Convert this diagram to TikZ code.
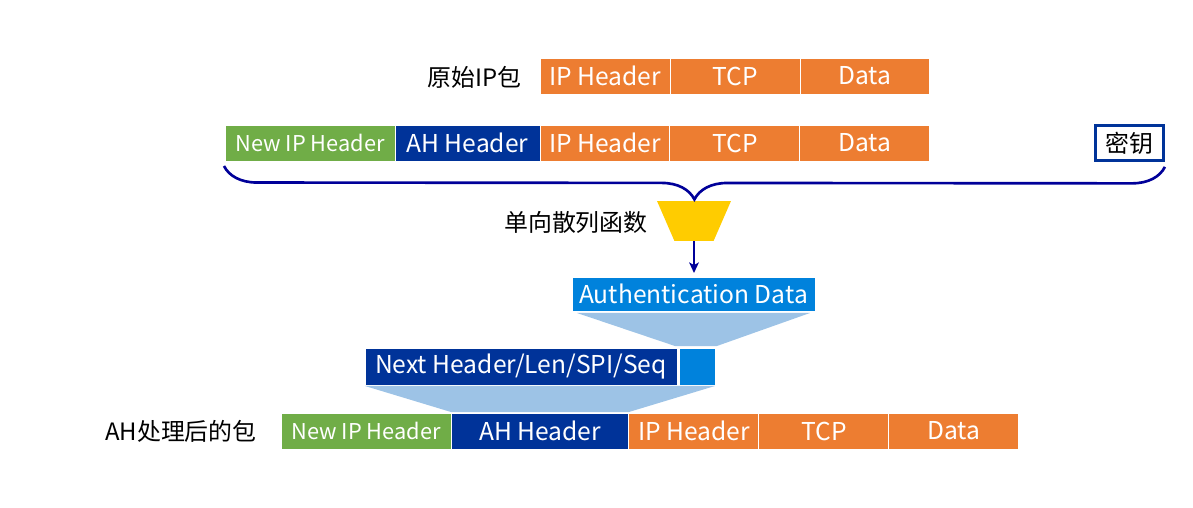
\documentclass[tikz,border=0pt]{standalone}
\usepackage{fontspec}
\setmainfont{Noto Sans CJK SC}
\usetikzlibrary{positioning,shapes.geometric,decorations.pathreplacing,arrows.meta}
\definecolor{ahorange}{HTML}{ED7D31}
\definecolor{ahgreen}{HTML}{70AD47}
\definecolor{ahblue}{HTML}{003399}
\definecolor{ahazure}{HTML}{0082DC}
\definecolor{ahlight}{HTML}{9DC3E6}
\definecolor{ahyellow}{HTML}{FFCC00}
\definecolor{ahnavy}{HTML}{000099}

\tikzstyle{seg} = [rectangle,draw=white,line width=0.5pt,inner sep=0pt,outer sep=0pt,text=white,minimum height=0.72cm,font=\fontsize{14}{17}\selectfont]
\tikzstyle{iphdr} = [seg,fill=ahorange,minimum width=2.6cm]
\tikzstyle{newhdr} = [seg,fill=ahgreen,minimum width=3.4cm,font=\fontsize{12.4}{15}\selectfont]
\tikzstyle{ahhdr} = [seg,fill=ahblue]
\tikzstyle{lbl} = [font=\fontsize{13.6}{16}\selectfont,inner sep=0pt,anchor=east]
\tikzstyle{keybox} = [draw=ahblue,line width=1.6pt,fill=white,minimum width=1.36cm,minimum height=0.7cm,inner sep=0pt,font=\fontsize{13.6}{16}\selectfont]
\tikzstyle{hashfn} = [trapezium,trapezium left angle=66,trapezium right angle=66,shape border rotate=180,trapezium stretches=true,fill=ahyellow,minimum width=1.48cm,minimum height=0.8cm,inner sep=1pt,outer sep=0pt]
\tikzstyle{brace} = [draw=ahnavy,line width=1.5pt,decorate,decoration={brace,mirror,amplitude=0.66cm,aspect=0.5}]

\begin{document}
\begin{tikzpicture}[x=0.02cm,y=-0.02cm,>={Stealth[length=6pt,width=5.5pt,inset=1.5pt]}]
	\useasboundingbox (0,0) rectangle (1193,507);
	\node (orig) [lbl] at (522,77) {原始IP包};
	\node (ip1) [iphdr,anchor=north west] at (540,58) {IP Header};
	\node (tcp1) [iphdr,right=0pt of ip1] {TCP};
	\node (data1) [iphdr,right=0pt of tcp1] {Data};
	\node (new2) [newhdr,anchor=north west] at (225,125) {New IP Header};
	\node (ah2) [ahhdr,right=0pt of new2,minimum width=2.9cm] {AH Header};
	\node (ip2) [iphdr,right=0pt of ah2] {IP Header};
	\node (tcp2) [iphdr,right=0pt of ip2] {TCP};
	\node (data2) [iphdr,right=0pt of tcp2] {Data};
	\node (key) [keybox] at (1129.5,143) {密钥};
	\node (hash) [hashfn] at (694,221) {};
	\node (hashlbl) [lbl] at (648,222) {单向散列函数};
	\node (auth) [seg,fill=ahazure,minimum width=4.86cm,minimum height=0.68cm,anchor=north west] at (572,277) {Authentication Data};
	\node (nh) [ahhdr,minimum width=6.24cm,minimum height=0.74cm,anchor=north west] at (365,348) {Next Header/Len/SPI/Seq};
	\node (sq) [seg,fill=ahazure,right=0.04cm of nh,minimum width=0.72cm,minimum height=0.74cm] {};
	\node (after) [lbl] at (257,431) {AH处理后的包};
	\node (new3) [newhdr,anchor=north west] at (281,413) {New IP Header};
	\node (ah3) [ahhdr,right=0pt of new3,minimum width=3.56cm] {AH Header};
	\node (ip3) [iphdr,right=0pt of ah3] {IP Header};
	\node (tcp3) [iphdr,right=0pt of ip3] {TCP};
	\node (data3) [iphdr,right=0pt of tcp3] {Data};
	\draw [brace] ([shift={(-1,5)}]new2.south west) -- ([shift={(0,5)}]key.south east);
	\draw [->,draw=ahnavy,line width=1.3pt,shorten >=0.08cm] (hash.south) -- (hash.south |- auth.north);
	\fill [ahlight] ([shift={(5,2)}]auth.south west) -- ([shift={(-5,2)}]auth.south east) -- ([shift={(2,-2)}]sq.north east) -- ([shift={(-4,-2)}]sq.north west) -- cycle;
	\fill [ahlight] ([shift={(0,1)}]nh.south west) -- ([shift={(0,1)}]sq.south east) -- ([shift={(0,-1)}]ah3.north east) -- ([shift={(0,-1)}]ah3.north west) -- cycle;
\end{tikzpicture}
\end{document}
